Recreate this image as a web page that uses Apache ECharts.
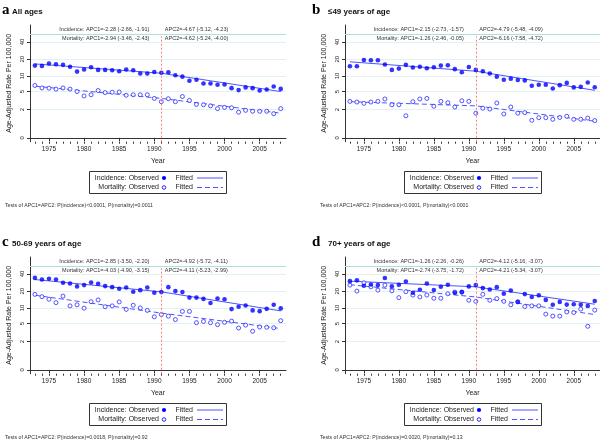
<!DOCTYPE html>
<html><head><meta charset="utf-8">
<script src="https://cdn.jsdelivr.net/npm/echarts@6/dist/echarts.min.js"></script>
<style>html,body{margin:0;padding:0;background:#fff}#c{width:600px;height:441px}</style>
</head><body><div id="c"></div>
<script>
// ---------- data ----------
const years = [1973,1974,1975,1976,1977,1978,1979,1980,1981,1982,1983,1984,1985,1986,1987,1988,1989,1990,
               1991,1992,1993,1994,1995,1996,1997,1998,1999,2000,2001,2002,2003,2004,2005,2006,2007,2008];
const xTickYears = [1975,1980,1985,1990,1995,2000,2005];
const yTickLabels = [0,2,5,10,20,40];
const joinYears = [1973,1991,2008];
const changeYear = 1991;

const allAgesIncidence = [15.4,15.2,16.8,16.3,15.9,14.7,12.0,13.1,14.4,12.9,12.9,12.7,12.2,13.1,12.7,11.1,11.1,11.8,
                          11.4,11.65,10.3,9.7,8.1,8.5,7.2,7.2,6.8,6.9,5.85,5.35,6.05,5.85,5.25,5.5,6.3,5.65];
const allAgesMortality = [6.6,5.9,5.85,5.6,5.9,5.6,5.0,4.06,4.3,5.25,4.77,4.85,4.9,4.2,4.3,4.3,4.3,3.6,
                          3.05,3.55,3.05,3.95,3.25,2.65,2.6,2.45,2.1,2.25,2.2,1.7,1.9,1.8,1.8,1.8,1.55,2.1];
const allAgesIncFit = [16.5,11.2,5.0];
const allAgesMortFit = [6.4,3.6,1.6];

const under49Incidence = [15.0,15.0,19.4,19.2,19.2,16.1,12.9,13.6,15.9,14.2,14.7,13.8,14.4,15.4,15.6,13.3,11.65,14.5,
                          12.9,12.2,11.1,9.7,8.5,8.9,8.4,8.25,6.5,6.8,6.8,5.75,6.7,7.4,6.05,6.2,7.5,6.1];
const under49Mortality = [3.1,3.0,2.8,3.0,3.1,3.5,2.6,2.6,1.35,3.05,3.5,3.6,2.4,3.1,2.9,2.3,3.2,3.1,
                          1.6,2.15,2.05,2.85,1.52,2.3,1.6,1.65,0.97,1.18,1.18,1.05,1.2,1.3,1.05,1.05,1.15,0.95];
const under49IncFit = [18,12.2,5.3];
const under49MortFit = [3.05,2.45,0.9];

const age5069Incidence = [34.2,32,33,32,28.1,27.4,24.3,25.6,28.5,27,24.6,23.6,22.1,23.3,19.6,20.9,23.3,18.8,
                          19.3,23.6,20.1,19.3,15.4,15.4,14.6,12.3,14.8,14.4,9.5,10.5,11.1,9.0,8.7,9.6,11.4,9.8];
const age5069Mortality = [17.6,16,14.4,12.5,16.4,10.9,11.4,9.9,13,14,10.5,10.9,12.9,9.4,11.2,10,9,6.8,
                          7.5,7.0,6.0,8.6,8.6,5.2,5.5,5.2,4.75,5.3,5.6,4.05,4.65,3.45,4.25,4.2,4.1,5.7];
const age5069IncFit = [32,19.5,8.8];
const age5069MortFit = [17,8,3.95];

const age70Incidence = [30,31,25,26.3,25.6,34,24.5,26,29.6,18.8,21.2,27.4,21,24,26,18.8,19.3,24.3,
                        25.6,22.7,21.5,23.6,18.1,20.6,12.8,17.8,15.8,16.9,14.0,11.4,12.9,11.5,11.7,11.4,10.9,13.4];
const age70Mortality = [25.6,20.1,28.1,23.9,20.9,25.6,20.3,15.4,19.6,17.1,15.8,17.1,15,15,18,19.3,19.3,13.8,
                        13.2,17.6,13.8,14.8,13.2,11.4,13.0,10.6,10.9,10.9,7.65,7.0,7.0,8.4,8.2,9.5,4.4,9.1];
const age70IncFit = [30,23.9,11.7];
const age70MortFit = [26,15.8,7.5];

const panelLetters = ['a','b','c','d'];
const panelTitles = ['All ages','\u226449 years of age','50-69 years of age','70+ years of age'];
const incAnnot1 = ['Incidence: APC1=-2.28 (-2.66, -1.91)','Incidence: APC1=-2.15 (-2.73, -1.57)','Incidence: APC1=-2.85 (-3.50, -2.20)','Incidence: APC1=-1.26 (-2.26, -0.26)'];
const incAnnot2 = ['APC2=-4.67 (-5.12, -4.23)','APC2=-4.79 (-5.48, -4.09)','APC2=-4.92 (-5.72, -4.11)','APC2=-4.12 (-5.16, -3.07)'];
const mortAnnot1 = ['Mortality: APC1=-2.94 (-3.46, -2.43)','Mortality: APC1=-1.26 (-2.46, -0.05)','Mortality: APC1=-4.03 (-4.90, -3.15)','Mortality: APC1=-2.74 (-3.75, -1.72)'];
const mortAnnot2 = ['APC2=-4.62 (-5.24, -4.00)','APC2=-6.16 (-7.58, -4.72)','APC2=-4.11 (-5.23, -2.99)','APC2=-4.21 (-5.34, -3.07)'];
const footers = ['Tests of APC1=APC2: P(incidence)<0.0001, P(mortality)=0.0011',
                 'Tests of APC1=APC2: P(incidence)<0.0001, P(mortality)<0.0001',
                 'Tests of APC1=APC2: P(incidence)=0.0018, P(mortality)=0.92',
                 'Tests of APC1=APC2: P(incidence)=0.0020, P(mortality)=0.13'];
const incidenceSets = [allAgesIncidence, under49Incidence, age5069Incidence, age70Incidence];
const mortalitySets = [allAgesMortality, under49Mortality, age5069Mortality, age70Mortality];
const incFitSets = [allAgesIncFit, under49IncFit, age5069IncFit, age70IncFit];
const mortFitSets = [allAgesMortFit, under49MortFit, age5069MortFit, age70MortFit];

// ---------- layout / style ----------
const FONT = 'Liberation Sans, Arial, sans-serif';
const offsets = [[0,0],[315,0],[0,232],[315,232]];
const gridW = [256,255,256,255];
const X_MIN = 1972.3, X_MAX = 2008.75, Y_MIN = -0.15, Y_MAX = 4.37;
const tr = v => Math.log(v + 1);         // log(rate+1) scale used by the figure
const yTicksT = yTickLabels.map(tr);
const DOT = '#0000ff', RING = '#2a2aff', FIT = '#5252ff', AXIS = '#333';

const grids = [], xAxes = [], yAxes = [], series = [];
for (let i = 0; i < 4; i++) {
  const [ox, oy] = offsets[i];
  grids.push({left: 30 + ox, top: 25 + oy, width: gridW[i], height: 116.7});
  xAxes.push({
    gridIndex: i, type: 'value', min: X_MIN, max: X_MAX, position: 'bottom',
    axisLine: {show: true, lineStyle: {color: AXIS, width: 1}},
    axisTick: {show: true, customValues: xTickYears, length: 3.5, lineStyle: {color: AXIS}},
    axisLabel: {customValues: xTickYears, fontSize: 6.5, color: '#222', margin: 4, fontFamily: FONT,
                formatter: v => String(Math.round(v))},
    splitLine: {show: false},
    name: 'Year', nameLocation: 'middle', nameGap: 16,
    nameTextStyle: {fontSize: 7, color: '#222', fontFamily: FONT}
  });
  xAxes.push({
    gridIndex: i, type: 'value', min: X_MIN, max: X_MAX, position: 'bottom',
    axisLine: {show: false},
    axisTick: {show: true, customValues: years, length: 2, lineStyle: {color: AXIS}},
    axisLabel: {show: false}, splitLine: {show: false}
  });
  yAxes.push({
    gridIndex: i, type: 'value', min: Y_MIN, max: Y_MAX,
    axisLine: {show: true, lineStyle: {color: AXIS, width: 1}},
    axisTick: {show: true, customValues: yTicksT, length: 3, lineStyle: {color: AXIS}},
    axisLabel: {customValues: yTicksT, rotate: 90, fontSize: 6, color: '#222', margin: 5, fontFamily: FONT,
                formatter: v => String(Math.round(Math.exp(v) - 1))},
    splitLine: {show: true, lineStyle: {color: '#e2f2f2', width: 1}},
    name: 'Age-Adjusted Rate Per 100,000', nameLocation: 'middle', nameGap: 17, nameRotate: 90,
    nameTextStyle: {fontSize: 7, color: '#222', fontFamily: FONT}
  });
  const xi = i * 2;
  series.push({
    type: 'line', xAxisIndex: xi, yAxisIndex: i, symbol: 'none', silent: true, z: 2,
    data: joinYears.map((y, k) => [y, tr(incFitSets[i][k])]),
    lineStyle: {color: FIT, width: 1},
    markLine: {
      silent: true, symbol: 'none', label: {show: false}, animation: false,
      data: [
        {yAxis: 4.0, lineStyle: {color: '#ace0e0', width: 1, type: 'solid'}},
        [{coord: [changeYear, Y_MIN], lineStyle: {color: '#ff5a5a', width: 0.8, type: [2, 2]}},
         {coord: [changeYear, 3.93]}]
      ]
    }
  });
  series.push({
    type: 'line', xAxisIndex: xi, yAxisIndex: i, symbol: 'none', silent: true, z: 2,
    data: joinYears.map((y, k) => [y, tr(mortFitSets[i][k])]),
    lineStyle: {color: FIT, width: 1, type: [5, 3]}
  });
  series.push({
    type: 'scatter', xAxisIndex: xi, yAxisIndex: i, symbol: 'circle', symbolSize: 4.6, z: 4,
    data: years.map((y, k) => [y, tr(incidenceSets[i][k])]),
    itemStyle: {color: DOT}
  });
  series.push({
    type: 'scatter', xAxisIndex: xi, yAxisIndex: i, symbol: 'circle', symbolSize: 4, z: 3,
    data: years.map((y, k) => [y, tr(mortalitySets[i][k])]),
    itemStyle: {color: '#fff', borderColor: RING, borderWidth: 1}
  });
}

const chart = echarts.init(document.getElementById('c'), null, {renderer: 'canvas'});
chart.setOption({
  animation: false, backgroundColor: '#fff',
  grid: grids, xAxis: xAxes, yAxis: yAxes, series: series
});

// ---------- annotations, titles, legend boxes ----------
const g = [];
const txt = (x, y, text, o) => g.push(Object.assign({type: 'text', x, y, silent: true,
  style: Object.assign({text, fontFamily: FONT, fontSize: 5.5, fill: '#333', align: 'left', verticalAlign: 'middle'}, o || {})}));
for (let i = 0; i < 4; i++) {
  const [ox, oy] = offsets[i];
  const top = 25 + oy;
  const xc = chart.convertToPixel({xAxisIndex: i * 2}, changeYear);
  txt(xc - 12, top + 4, incAnnot1[i], {align: 'right'});
  txt(xc + 3.5, top + 4, incAnnot2[i]);
  txt(xc - 12, top + 13, mortAnnot1[i], {align: 'right'});
  txt(xc + 3.5, top + 13, mortAnnot2[i]);
  // titles
  txt((i % 2 ? 312 : 2), oy + 10, panelLetters[i], {fontFamily: 'Liberation Serif, Times New Roman, serif', fontSize: 15, fontWeight: 'bold', fill: '#000'});
  txt((i % 2 ? 328 : 12), oy + 12, panelTitles[i], {fontSize: 8, fontWeight: 'bold', fill: '#111'});
  // footer
  txt((i % 2 ? 320 : 5), oy + 206, footers[i], {fontSize: 5.2, fill: '#333'});
  // legend box
  const lx = (i % 2 ? 404 : 89), ly = oy + 171;
  g.push({type: 'rect', silent: true, shape: {x: lx + 0.5, y: ly + 0.5, width: 137, height: 22},
          style: {fill: '#fff', stroke: '#333', lineWidth: 1}});
  txt(lx + 70, ly + 7, 'Incidence: Observed', {align: 'right', fontSize: 7, fill: '#222'});
  txt(lx + 70, ly + 16.5, 'Mortality: Observed', {align: 'right', fontSize: 7, fill: '#222'});
  g.push({type: 'circle', silent: true, shape: {cx: lx + 75, cy: ly + 7, r: 2.1}, style: {fill: DOT}});
  g.push({type: 'circle', silent: true, shape: {cx: lx + 75, cy: ly + 16.5, r: 1.8}, style: {fill: '#fff', stroke: RING, lineWidth: 1}});
  txt(lx + 86.5, ly + 7, 'Fitted', {fontSize: 7, fill: '#222'});
  txt(lx + 86.5, ly + 16.5, 'Fitted', {fontSize: 7, fill: '#222'});
  g.push({type: 'line', silent: true, shape: {x1: lx + 108, y1: ly + 7, x2: lx + 134, y2: ly + 7}, style: {stroke: FIT, lineWidth: 1}});
  g.push({type: 'line', silent: true, shape: {x1: lx + 108, y1: ly + 16.5, x2: lx + 134, y2: ly + 16.5}, style: {stroke: FIT, lineWidth: 1, lineDash: [5, 3]}});
}
chart.setOption({graphic: g});
</script></body></html>
